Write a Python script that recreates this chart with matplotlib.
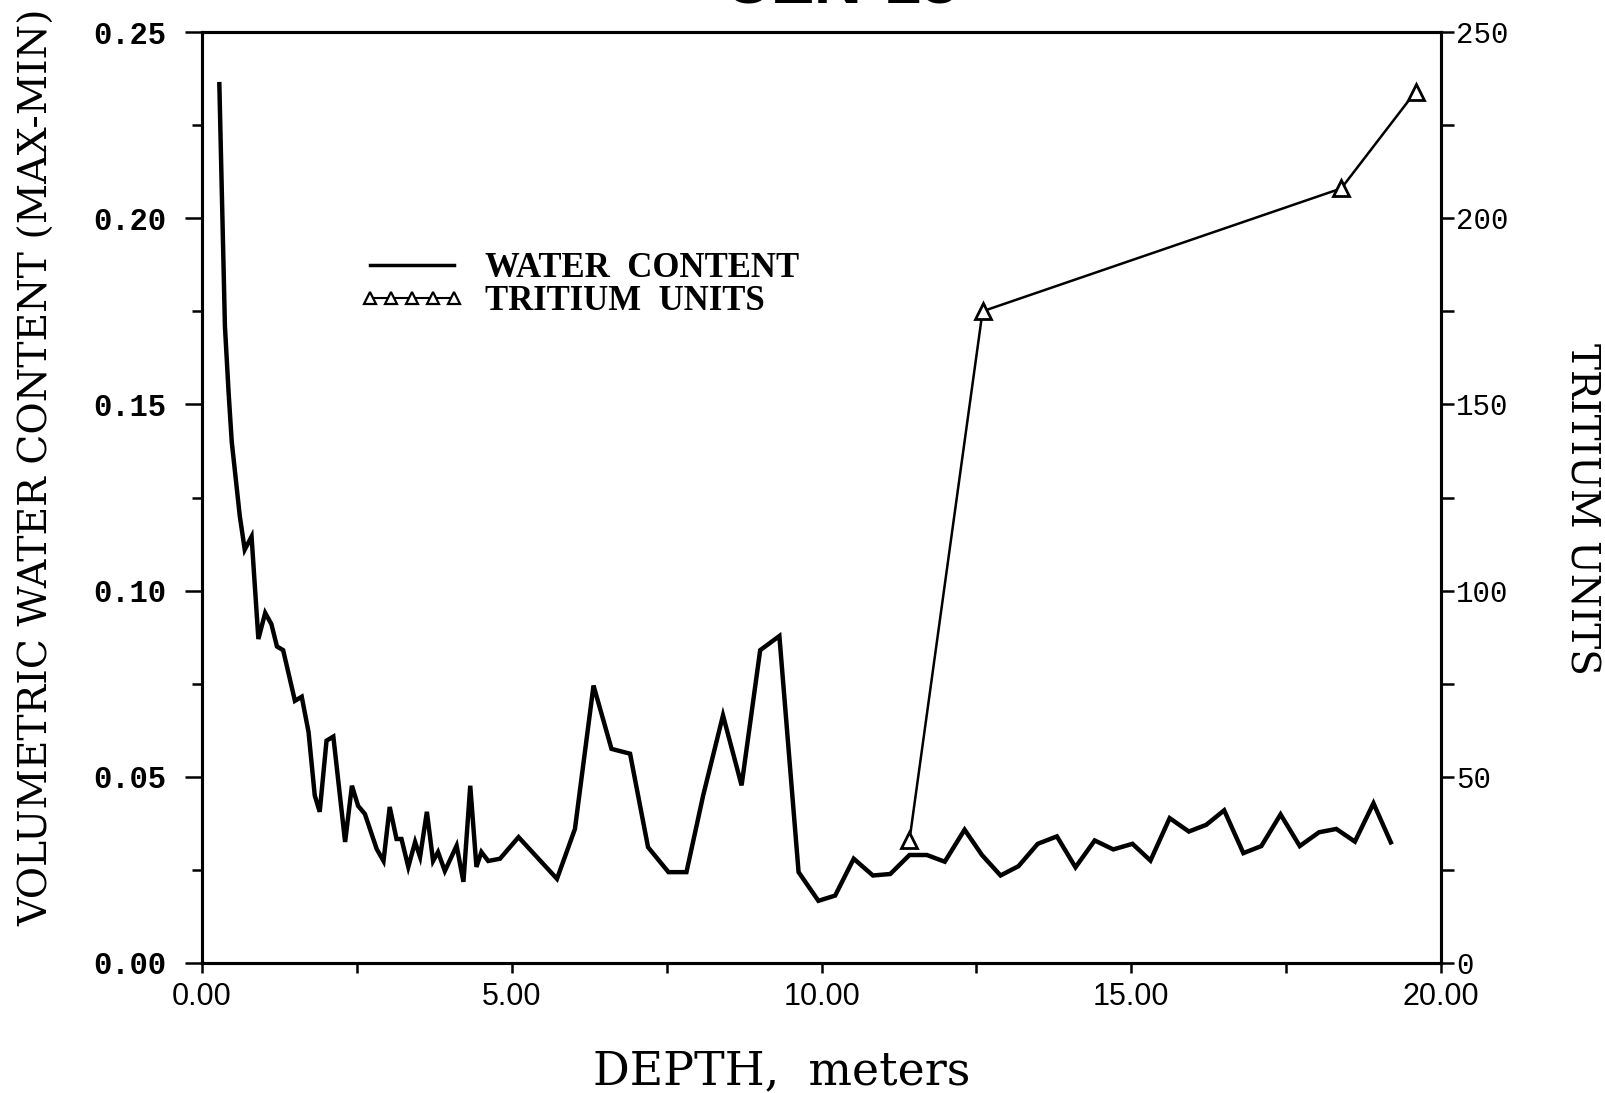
import matplotlib
matplotlib.use("Agg")
import matplotlib.pyplot as plt
from matplotlib.lines import Line2D
from matplotlib.font_manager import FontProperties

# Neutron-log water content versus depth
depth_wc = [0.28, 0.32, 0.37, 0.43, 0.48, 0.61, 0.69, 0.80,
            0.91, 1.02, 1.12, 1.21, 1.31,
            1.50, 1.61, 1.72, 1.82, 1.90,
            2.01, 2.12, 2.31, 2.42, 2.52, 2.63,
            2.82, 2.93, 3.03, 3.14, 3.22, 3.33,
            3.44, 3.52, 3.63, 3.73, 3.81, 3.92,
            4.11, 4.22, 4.33, 4.43, 4.51, 4.62,
            4.81, 5.11, 5.73, 6.02,
            6.32, 6.61, 6.91, 7.20, 7.53, 7.82,
            8.09, 8.41, 8.71, 9.01, 9.32, 9.63, 9.95,
            10.22, 10.52, 10.83, 11.11, 11.42, 11.70, 11.99,
            12.31, 12.59, 12.89, 13.18, 13.49, 13.80,
            14.10, 14.41, 14.71, 15.02, 15.31, 15.62, 15.93,
            16.21, 16.50, 16.81, 17.10, 17.41, 17.72,
            18.03, 18.31, 18.61, 18.91, 19.19]
water_content = [0.236, 0.207, 0.171, 0.153, 0.140, 0.120, 0.111, 0.1145,
                 0.087, 0.094, 0.091, 0.085, 0.084,
                 0.0704, 0.0715, 0.062, 0.045, 0.0406,
                 0.0597, 0.0608, 0.0325, 0.0476, 0.0422, 0.040,
                 0.0306, 0.0274, 0.0419, 0.0333, 0.0333, 0.0258,
                 0.0325, 0.0285, 0.0406, 0.0274, 0.0298, 0.0247,
                 0.0315, 0.0218, 0.0476, 0.0258, 0.0298, 0.0274,
                 0.028, 0.0338, 0.0226, 0.036,
                 0.0745, 0.0575, 0.0562, 0.0311, 0.0244, 0.0244,
                 0.045, 0.0665, 0.0477, 0.084, 0.0878, 0.0244, 0.0167,
                 0.0181, 0.028, 0.0235, 0.0239, 0.029, 0.029, 0.0272,
                 0.0358, 0.029, 0.0235, 0.026, 0.032, 0.034,
                 0.0257, 0.0329, 0.0305, 0.032, 0.0275, 0.0389, 0.0353,
                 0.0371, 0.041, 0.0295, 0.0314, 0.0399, 0.0314,
                 0.0351, 0.036, 0.0326, 0.0429, 0.0324]

# Tritium samples
depth_tr = [11.42, 12.60, 18.39, 19.59]
tritium_units = [33, 175, 208, 234]

x_ticks = [0, 5, 10, 15, 20]
x_tick_labels = ["0.00", "5.00", "10.00", "15.00", "20.00"]
y_ticks = [0.00, 0.05, 0.10, 0.15, 0.20, 0.25]
y_tick_labels = ["0.00", "0.05", "0.10", "0.15", "0.20", "0.25"]
tu_ticks = [0, 50, 100, 150, 200, 250]
tu_tick_labels = ["0", "50", "100", "150", "200", "250"]

W, H = 1605, 1093
fig = plt.figure(figsize=(W / 100, H / 100), dpi=100)
fig.patch.set_facecolor("white")

left, right, top, bottom = 202, 1441, 32, 963
ax = fig.add_axes([left / W, 1 - bottom / H, (right - left) / W, (bottom - top) / H])

ax.plot(depth_wc, water_content, color="black", lw=3.2, solid_joinstyle="miter")
ax.set_xlim(0, 20)
ax.set_ylim(0, 0.25)

ax.set_xticks(x_ticks)
ax.set_xticklabels(x_tick_labels, fontsize=22,
                   fontfamily=["Liberation Sans Narrow", "Liberation Sans"])
ax.set_xticks([2.5, 7.5, 12.5, 17.5], minor=True)
ax.set_yticks(y_ticks)
ax.set_yticklabels(y_tick_labels, fontsize=22, fontfamily="Liberation Mono",
                   fontweight="bold")
ax.set_yticks([0.025, 0.075, 0.125, 0.175, 0.225], minor=True)

ax.tick_params(axis="x", which="both", direction="out", length=7, width=1.8, pad=7)
ax.tick_params(axis="y", which="major", direction="out", length=12, width=1.8, pad=14)
ax.tick_params(axis="y", which="minor", direction="out", length=7, width=1.8)

ax2 = ax.twinx()
ax2.plot(depth_tr, tritium_units, color="black", lw=1.8, marker="^", ms=11,
         mfc="white", mec="black", mew=2)
ax2.set_ylim(0, 250)
ax2.set_yticks(tu_ticks)
ax2.set_yticklabels(tu_tick_labels, fontsize=21, fontfamily="Liberation Mono")
ax2.set_yticks([25, 75, 125, 175, 225], minor=True)
ax2.tick_params(axis="y", which="major", direction="out", length=9, width=1.8, pad=2)
ax2.tick_params(axis="y", which="minor", direction="out", length=9, width=1.8)

for a in (ax, ax2):
    for s in a.spines.values():
        s.set_linewidth(2.2)

# Axis titles
fig.text(782 / W, 1 - 1072 / H, "DEPTH,  meters", ha="center", va="center",
         fontsize=33, fontfamily="DejaVu Serif")
fig.text(38 / W, 1 - 467 / H, "VOLUMETRIC WATER CONTENT (MAX-MIN)", ha="center",
         va="center", rotation=90, fontsize=28.4, fontfamily="DejaVu Serif")
fig.text(1581 / W, 1 - 509 / H, "TRITIUM UNITS", ha="center", va="center",
         rotation=270, fontsize=28, fontfamily="DejaVu Serif")

# Well name along the top edge
fig.text(842 / W, 1 - 3 / H, "UZN-13", ha="center", va="baseline",
         fontsize=48, fontweight="bold", fontfamily="Liberation Sans")

# Legend
handles = [
    Line2D([], [], color="black", lw=2.5),
    Line2D([], [], color="black", lw=1.5, marker="^", ms=9, mfc="white",
           mec="black", mew=1.6),
]
ax.legend(handles, ["WATER  CONTENT", "TRITIUM  UNITS"], loc="upper left",
          bbox_to_anchor=(360 / W, 1 - 252 / H), bbox_transform=fig.transFigure,
          frameon=False, numpoints=5, handlelength=3.0, handletextpad=0.6,
          labelspacing=0.0, borderpad=0, borderaxespad=0,
          prop=FontProperties(family="Liberation Serif", weight="bold", size=25))

fig.savefig("out.png", dpi=100, facecolor="white")
